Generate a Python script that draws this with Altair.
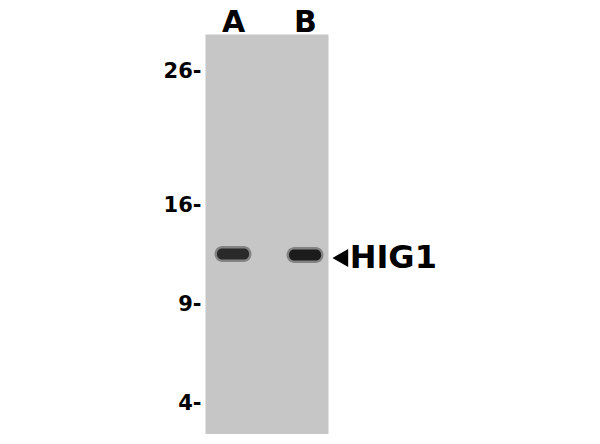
import altair as alt
import pandas as pd

# ---- data read from the blot ----
marker_kda = ["26", "16", "9", "4"]
marker_migration = [9.25, 42.75, 67.5, 92.25]   # % of blot height from top

lanes = ["A", "B"]
lane_pos = [1, 2]
band_migration = [55.0, 55.25]
band_intensity = [0.9, 1.0]

target_name = "HIG1"
target_migration = 56.0

FONT = "DejaVu Sans"

bands = pd.DataFrame({"lane": lanes, "pos": lane_pos,
                      "mig": band_migration, "int": band_intensity})
label_df = pd.DataFrame({"name": [target_name], "mig": [target_migration]})

xscale = alt.Scale(domain=[0.611, 2.319], nice=False, zero=False)
yscale = alt.Scale(domain=[0, 100], reverse=True, nice=False, zero=False)

lane_expr = " : ".join(
    [f"datum.value == {p} ? '{l}'" for p, l in zip(lane_pos, lanes)]) + " : ''"
mk_expr = " : ".join(
    [f"abs(datum.value - {m}) < 0.01 ? '{k}-'" for m, k in zip(marker_migration, marker_kda)]) + " : ''"

x_enc = alt.X("pos:Q", scale=xscale,
              axis=alt.Axis(orient="top", values=lane_pos, labelExpr=lane_expr,
                            title=None, ticks=False, domain=False, grid=False,
                            labelFont=FONT, labelFontSize=30, labelFontWeight="bold",
                            labelColor="black", labelBaseline="alphabetic",
                            labelPadding=3))
y_enc = alt.Y("mig:Q", scale=yscale,
              axis=alt.Axis(orient="left", values=marker_migration, labelExpr=mk_expr,
                            title=None, ticks=False, domain=False, grid=False,
                            labelFont=FONT, labelFontSize=21, labelFontWeight="bold",
                            labelColor="black", labelPadding=4))

halo = alt.Chart(bands).mark_rect(width=37, height=16, cornerRadius=8,
                                  color="#303030", opacity=0.45).encode(
    x=x_enc, y=y_enc)

core = alt.Chart(bands).mark_rect(width=32, height=11, cornerRadius=5).encode(
    x="pos:Q", y="mig:Q",
    color=alt.Color("int:Q", scale=alt.Scale(domain=[0, 1], range=["#c6c6c6", "#1c1c1c"]),
                    legend=None))

arrow = alt.Chart(label_df).mark_point(shape="triangle-left", filled=True, size=330,
                                       color="black", opacity=1).encode(
    x=alt.datum(2.49), y="mig:Q")

label = alt.Chart(label_df).mark_text(align="left", baseline="middle", font=FONT,
                                      fontSize=32, fontWeight="bold",
                                      color="black").encode(
    x=alt.datum(2.62), y="mig:Q", text="name:N")

chart = alt.layer(halo, core, arrow, label).properties(
    width=123, height=400,
    autosize=alt.AutoSizeParams(type="none"),
    padding={"left": 197, "top": 26, "right": 250, "bottom": 0},
).configure(background="white").configure_view(fill="#c6c6c6", stroke="transparent")

chart.save("out.html", embed_options={"renderer": "svg", "actions": False})
